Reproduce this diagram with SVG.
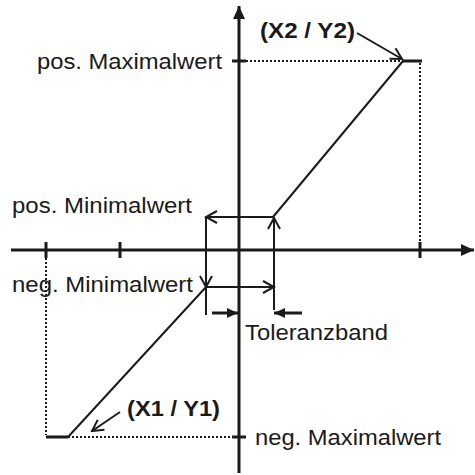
<svg xmlns="http://www.w3.org/2000/svg" width="475" height="475" viewBox="0 0 475 475">
<style>
.ax{stroke:#1a1a1a;stroke-width:3;fill:none}
.ln{stroke:#1a1a1a;stroke-width:2;fill:none}
.dot{stroke:#1a1a1a;stroke-width:2;fill:none;stroke-dasharray:2 2}
.t{font-family:"Liberation Sans",Arial,sans-serif;font-size:22px;fill:#1a1a1a}
.b{font-weight:bold}
</style>
<defs>
<marker id="axh" markerUnits="userSpaceOnUse" viewBox="-14 -7 15 14" refX="0" refY="0" markerWidth="15" markerHeight="14" orient="auto">
<path d="M-13,-6 L0,0 L-13,6 Z" fill="#1a1a1a"/>
</marker>
<marker id="open" markerUnits="userSpaceOnUse" viewBox="-13 -8 15 16" refX="0" refY="0" markerWidth="15" markerHeight="16" orient="auto">
<path d="M-11,-6 L0,0 L-11,6" fill="none" stroke="#1a1a1a" stroke-width="2"/>
</marker>
<marker id="fill" markerUnits="userSpaceOnUse" viewBox="-12 -7 13 14" refX="0" refY="0" markerWidth="13" markerHeight="14" orient="auto">
<path d="M-11,-5 L0,0 L-11,5 Z" fill="#1a1a1a"/>
</marker>
</defs>
<g id="axes">
<line class="ax" x1="11" y1="250" x2="474" y2="250" marker-end="url(#axh)"/>
<line class="ax" x1="239" y1="473" x2="239" y2="6" marker-end="url(#axh)"/>
<line class="ax" x1="46" y1="242" x2="46" y2="258"/>
<line class="ax" x1="120" y1="242" x2="120" y2="258"/>
<line class="ax" x1="420" y1="242" x2="420" y2="258"/>
<line class="ax" x1="232" y1="61" x2="246" y2="61"/>
<line class="ax" x1="232" y1="437" x2="246" y2="437"/>
</g>
<g id="curve">
<line class="dot" x1="246" y1="61" x2="403" y2="61"/>
<line class="dot" x1="420" y1="63" x2="420" y2="242"/>
<line class="dot" x1="68" y1="437" x2="232" y2="437"/>
<line class="dot" x1="46" y1="258" x2="46" y2="435"/>
<line class="ax" x1="403" y1="61" x2="422" y2="61"/>
<line class="ax" x1="46" y1="437" x2="68" y2="437"/>
<line class="ln" x1="273" y1="217" x2="403" y2="61"/>
<line class="ln" x1="68" y1="437" x2="206" y2="287"/>
</g>
<g id="connectors">
<line class="ln" x1="273" y1="217" x2="206" y2="217" marker-end="url(#open)"/>
<line class="ln" x1="206" y1="217" x2="206" y2="287" marker-end="url(#open)"/>
<line class="ln" x1="206" y1="287" x2="206" y2="315"/>
<line class="ln" x1="206" y1="287" x2="274" y2="287" marker-end="url(#open)"/>
<line class="ln" x1="274" y1="310" x2="274" y2="218" marker-end="url(#open)"/>
<line class="ax" x1="212" y1="313" x2="238" y2="313" marker-end="url(#fill)"/>
<line class="ax" x1="302" y1="313" x2="274" y2="313" marker-end="url(#fill)"/>
<line class="ln" x1="357" y1="33" x2="402" y2="59" marker-end="url(#open)"/>
<line class="ln" x1="120" y1="412" x2="92" y2="431" marker-end="url(#open)"/>
</g>
<g id="label-posmax"><text class="t" x="37" y="69" textLength="185" lengthAdjust="spacingAndGlyphs">pos. Maximalwert</text></g>
<g id="label-posmin"><text class="t" x="12" y="213" textLength="180" lengthAdjust="spacingAndGlyphs">pos. Minimalwert</text></g>
<g id="label-negmin"><text class="t" x="12" y="292" textLength="181" lengthAdjust="spacingAndGlyphs">neg. Minimalwert</text></g>
<g id="label-toleranz"><text class="t" x="245" y="340" textLength="143" lengthAdjust="spacingAndGlyphs">Toleranzband</text></g>
<g id="label-negmax"><text class="t" x="255" y="445" textLength="186" lengthAdjust="spacingAndGlyphs">neg. Maximalwert</text></g>
<g id="label-x2y2"><text class="t b" x="260" y="38" textLength="95" lengthAdjust="spacingAndGlyphs">(X2 / Y2)</text></g>
<g id="label-x1y1"><text class="t b" x="127" y="416" textLength="93" lengthAdjust="spacingAndGlyphs">(X1 / Y1)</text></g>
</svg>
